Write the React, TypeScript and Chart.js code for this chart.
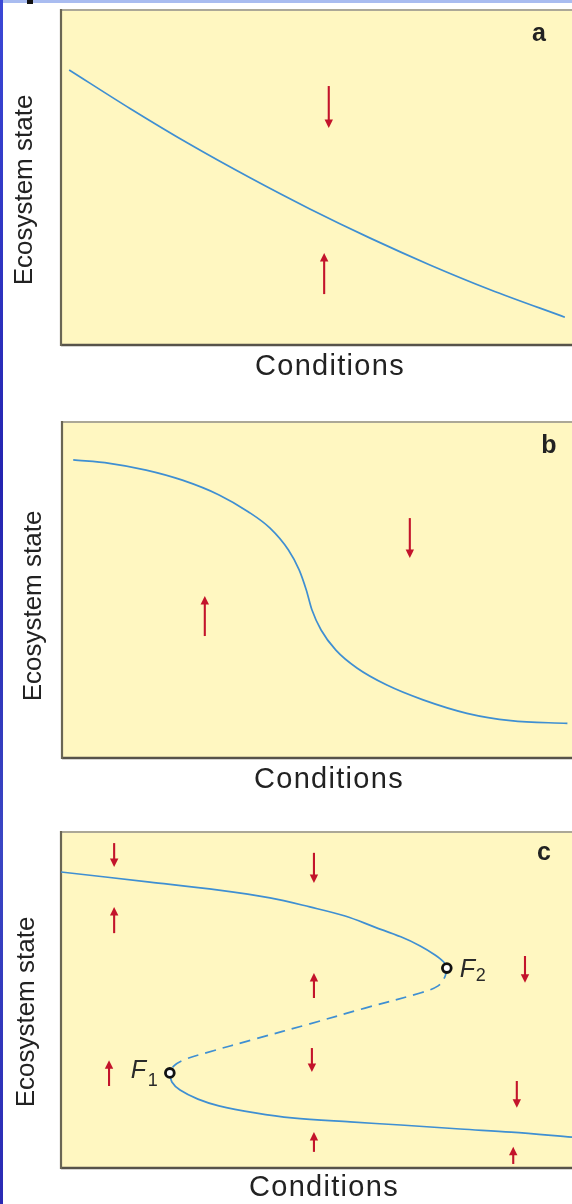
import React, { useEffect, useRef } from "react";
import { Chart, registerables } from "chart.js";

Chart.register(...registerables);

// ---- Panel a: a smooth, gradual response ----
const aConditions = [1.6, 13.5, 25.2, 37.0, 48.7, 60.5, 72.2, 84.0, 98.6];
const aState = [82.1, 70.6, 59.9, 49.9, 40.6, 31.9, 23.9, 16.5, 8.3];
const aArrowX = [52.4, 51.5];
const aArrowTail = [77.3, 15.2];
const aArrowHead = [64.8, 27.5];

// ---- Panel b: a steep but single-valued response ----
const bConditions = [2.2, 9.3, 16.5, 23.6, 30.8, 36.5, 40.8, 44.4, 46.5, 47.9, 49.0, 50.8, 53.7, 57.9, 63.7, 70.8, 79.4, 88.0, 99.1];
const bState = [88.7, 87.7, 85.7, 82.7, 78.3, 73.3, 68.4, 61.9, 56.0, 50.0, 44.1, 38.1, 32.1, 26.7, 21.7, 17.3, 13.3, 11.1, 10.3];
const bArrowX = [28.0, 68.2];
const bArrowTail = [36.3, 71.4];
const bArrowHead = [48.2, 59.5];

// ---- Panel c: folded response with two stable branches ----
const cUpperConditions = [0, 17.4, 30.9, 40.9, 48.7, 55.6, 61.4, 66.5, 70.3, 73.2, 74.9, 75.5];
const cUpperState = [88.1, 85.1, 82.7, 80.4, 77.7, 75.0, 71.7, 68.8, 66.1, 63.4, 61.3, 59.5];
const cMiddleConditions = [75.5, 75.1, 73.8, 70.3, 59.5, 48.7, 38.0, 28.2, 23.9, 22.1, 21.3];
const cMiddleState = [59.5, 56.8, 54.2, 52.1, 47.6, 42.9, 38.4, 34.2, 32.1, 30.4, 28.3];
const cLowerConditions = [21.3, 21.7, 23.3, 26.8, 30.9, 38.0, 45.2, 56.6, 66.5, 78.1, 88.1, 100];
const cLowerState = [28.3, 25.6, 23.2, 20.5, 18.5, 16.4, 14.9, 13.7, 12.8, 11.6, 10.7, 9.2];
const cFoldNames = ["F1", "F2"];
const cFoldConditions = [21.3, 75.5];
const cFoldState = [28.3, 59.5];
const cArrowX = [10.4, 10.4, 49.5, 49.5, 90.8, 9.4, 49.1, 89.2, 49.5, 88.5];
const cArrowTail = [96.7, 69.9, 93.8, 50.6, 63.1, 24.4, 35.7, 25.9, 4.8, 1.2];
const cArrowHead = [89.6, 77.7, 84.8, 58.0, 55.1, 32.1, 28.6, 17.9, 10.7, 6.3];

const Y_TITLE = "Ecosystem state";
const X_TITLE = "Conditions";
const PANEL_LETTERS = ["a", "b", "c"];

const CURVE = "#3f8fd2";
const ARROW = "#c3142b";
const PAPER = "#fff7c1";
const INK = "#222222";

const toPoints = (xs: number[], ys: number[]) => xs.map((x, i) => ({ x, y: ys[i] }));

// single-valued curves use monotone interpolation; folded branches use bezier tension
const curve = (xs: number[], ys: number[], opts: { dash?: number[]; monotone?: boolean } = {}) => ({
  data: toPoints(xs, ys),
  showLine: true,
  borderColor: CURVE,
  borderWidth: 1.7,
  borderDash: opts.dash || [],
  pointRadius: 0,
  tension: 0.35,
  cubicInterpolationMode: opts.monotone ? "monotone" : "default",
  fill: false,
  order: 2,
});

type ArrowSet = { x: number[]; tail: number[]; head: number[] };

const panelDecor = {
  id: "panelDecor",
  beforeDatasetsDraw(chart: any) {
    const { ctx, chartArea: a } = chart;
    ctx.save();
    ctx.fillStyle = PAPER;
    ctx.fillRect(a.left, a.top, a.right - a.left, a.bottom - a.top);
    const seg = (x0: number, y0: number, x1: number, y1: number, color: string, w: number) => {
      ctx.beginPath();
      ctx.strokeStyle = color;
      ctx.lineWidth = w;
      ctx.moveTo(x0, y0);
      ctx.lineTo(x1, y1);
      ctx.stroke();
    };
    // frame runs off the right side of the page, so only three sides are drawn
    seg(a.left, a.top, a.right, a.top, "#aca897", 2);
    seg(a.left, a.bottom, a.right, a.bottom, "#57534a", 2.4);
    seg(a.left, a.top - 1, a.left, a.bottom + 1, "#6a6654", 2.2);
    ctx.restore();
  },
  afterDatasetsDraw(chart: any, _args: any, opts: any) {
    const { ctx } = chart;
    const xs = chart.scales.x;
    const ys = chart.scales.y;
    const arrows: ArrowSet = opts.arrows;
    ctx.save();
    ctx.strokeStyle = ARROW;
    ctx.fillStyle = ARROW;
    ctx.lineWidth = 2.1;
    arrows.x.forEach((xv, i) => {
      const px = xs.getPixelForValue(xv);
      const y0 = ys.getPixelForValue(arrows.tail[i]);
      const y1 = ys.getPixelForValue(arrows.head[i]);
      const dir = y1 > y0 ? 1 : -1;
      const headLen = 8.5;
      ctx.beginPath();
      ctx.moveTo(px, y0);
      ctx.lineTo(px, y1 - dir * headLen * 0.6);
      ctx.stroke();
      ctx.beginPath();
      ctx.moveTo(px, y1);
      ctx.lineTo(px - 4.2, y1 - dir * headLen);
      ctx.lineTo(px + 4.2, y1 - dir * headLen);
      ctx.closePath();
      ctx.fill();
    });
    ctx.restore();
  },
  afterDraw(chart: any, _args: any, opts: any) {
    const { ctx } = chart;
    ctx.save();
    ctx.fillStyle = INK;
    // axis titles
    ctx.textAlign = "center";
    ctx.textBaseline = "middle";
    ctx.font = '26px "Liberation Sans", Arial, sans-serif';
    ctx.save();
    ctx.translate(opts.yTitle[0], opts.yTitle[1]);
    ctx.rotate(-Math.PI / 2);
    ctx.fillText(Y_TITLE, 0, 0);
    ctx.restore();
    ctx.save();
    ctx.font = '29px "Liberation Sans", Arial, sans-serif';
    (ctx as any).letterSpacing = "1.3px";
    ctx.fillText(X_TITLE, opts.xTitle[0] + 1, opts.xTitle[1]);
    ctx.restore();
    // panel letter
    ctx.font = 'bold 25px "Liberation Sans", Arial, sans-serif';
    ctx.fillText(opts.letter, opts.letterPos[0], opts.letterPos[1]);
    // fold point labels
    if (opts.folds) {
      const xs = chart.scales.x;
      const ys = chart.scales.y;
      ctx.textAlign = "left";
      ctx.textBaseline = "alphabetic";
      ctx.fillStyle = "#2a2a2a";
      opts.folds.forEach((f: any) => {
        const px = xs.getPixelForValue(f.x);
        const py = ys.getPixelForValue(f.y);
        ctx.font = 'italic 25px "Liberation Sans", Arial, sans-serif';
        ctx.fillText(f.name[0], px + f.dx, py + f.dy);
        ctx.font = '18px "Liberation Sans", Arial, sans-serif';
        ctx.fillText(f.name.slice(1), px + f.dx + f.subDx, py + f.dy + f.subDy);
      });
    }
    ctx.restore();
  },
};

type PanelSpec = {
  top: number;
  height: number;
  pad: { left: number; top: number; bottom: number };
  datasets: any[];
  arrows: ArrowSet;
  letter: string;
  letterPos: [number, number];
  yTitle: [number, number];
  xTitle: [number, number];
  folds?: any[];
};

const panels: PanelSpec[] = [
  {
    top: 0,
    height: 400,
    pad: { left: 61, top: 10, bottom: 55 },
    datasets: [curve(aConditions, aState, { monotone: true })],
    arrows: { x: aArrowX, tail: aArrowTail, head: aArrowHead },
    letter: PANEL_LETTERS[0],
    letterPos: [539, 34],
    yTitle: [25, 190],
    xTitle: [329, 367],
  },
  {
    top: 400,
    height: 400,
    pad: { left: 62, top: 22, bottom: 42 },
    datasets: [curve(bConditions, bState, { monotone: true })],
    arrows: { x: bArrowX, tail: bArrowTail, head: bArrowHead },
    letter: PANEL_LETTERS[1],
    letterPos: [549, 46],
    yTitle: [34, 206],
    xTitle: [328, 380],
  },
  {
    top: 800,
    height: 404,
    pad: { left: 61, top: 32, bottom: 36 },
    datasets: [
      {
        data: toPoints(cFoldConditions, cFoldState),
        showLine: false,
        pointRadius: 4.4,
        pointBorderWidth: 2.8,
        pointBorderColor: "#111111",
        pointBackgroundColor: "#ffffff",
        order: 0,
      },
      curve(cUpperConditions, cUpperState),
      curve(cMiddleConditions, cMiddleState, { dash: [11, 7] }),
      curve(cLowerConditions, cLowerState),
    ],
    arrows: { x: cArrowX, tail: cArrowTail, head: cArrowHead },
    letter: PANEL_LETTERS[2],
    letterPos: [544, 53],
    yTitle: [27, 212],
    xTitle: [323, 388],
    folds: [
      { name: cFoldNames[0], x: cFoldConditions[0], y: cFoldState[0], dx: -39, dy: 5, subDx: 17, subDy: 8 },
      { name: cFoldNames[1], x: cFoldConditions[1], y: cFoldState[1], dx: 13, dy: 9, subDx: 16, subDy: 4 },
    ],
  },
];

function Panel({ spec }: { spec: PanelSpec }) {
  const ref = useRef<HTMLCanvasElement | null>(null);
  useEffect(() => {
    if (!ref.current) return;
    const chart = new Chart(ref.current, {
      type: "scatter",
      data: { datasets: spec.datasets },
      options: {
        animation: false,
        responsive: false,
        devicePixelRatio: 1,
        events: [],
        layout: {
          autoPadding: false,
          padding: { left: spec.pad.left, top: spec.pad.top, right: 0, bottom: spec.pad.bottom },
        },
        scales: {
          x: { type: "linear", min: 0, max: 100, display: false },
          y: { type: "linear", min: 0, max: 100, display: false },
        },
        plugins: {
          legend: { display: false },
          tooltip: { enabled: false },
          panelDecor: {
            arrows: spec.arrows,
            letter: spec.letter,
            letterPos: spec.letterPos,
            yTitle: spec.yTitle,
            xTitle: spec.xTitle,
            folds: spec.folds,
          },
        } as any,
      },
      plugins: [panelDecor],
    });
    return () => chart.destroy();
  }, [spec]);
  return (
    <canvas
      ref={ref}
      width={572}
      height={spec.height}
      style={{ position: "absolute", left: 0, top: spec.top, width: 572, height: spec.height, display: "block" }}
    />
  );
}

export default function App() {
  return (
    <div style={{ position: "absolute", left: 0, top: 0, width: 572, height: 1204, overflow: "hidden", background: "#ffffff" }}>
      {panels.map((p, i) => (
        <Panel key={i} spec={p} />
      ))}
      <div style={{ position: "absolute", left: 0, top: 0, width: 572, height: 3, background: "#a9bcf0" }} />
      <div
        style={{
          position: "absolute",
          left: 0,
          top: 0,
          width: 3,
          height: 1204,
          background: "linear-gradient(to bottom, #3b48d6, #2424b0 40%, #3a46c4 70%, #2a2ab4)",
        }}
      />
      <div style={{ position: "absolute", left: 27, top: 0, width: 6, height: 4, background: "#111111" }} />
    </div>
  );
}
